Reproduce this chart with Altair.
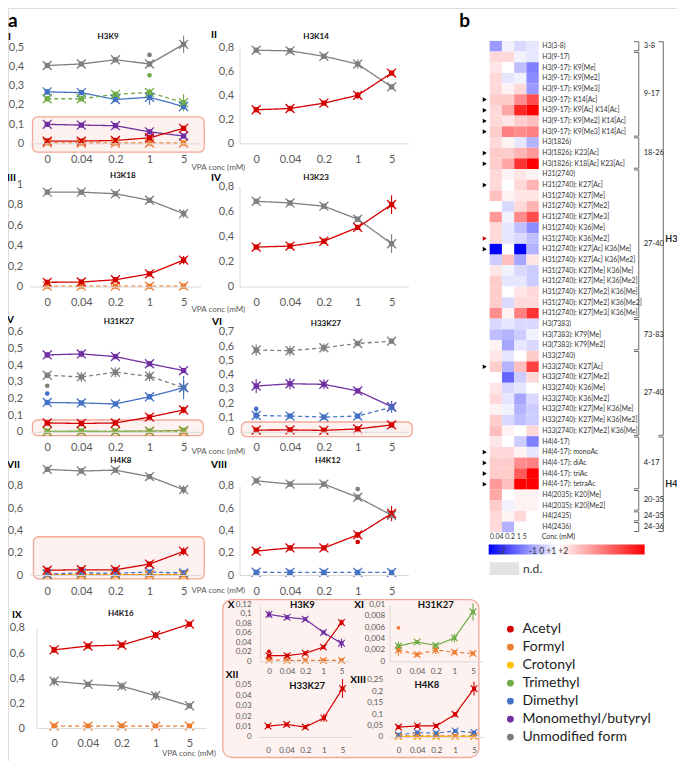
import altair as alt
import pandas as pd

W, H = 669, 753
S = 0.981
FONT = "Lato"


def X(x):
    return round((x - 3.0) * S, 2)


def Y(y):
    return round((y - 3.0) * S, 2)


CONC = ["0", "0.04", "0.2", "1", "5"]
TYPES = ["Acetyl", "Formyl", "Crotonyl", "Trimethyl", "Dimethyl",
         "Monomethyl/butyryl", "Unmodified form"]
TYPE_COLORS = ["#d40000", "#ed7d31", "#ffc000", "#70ad47", "#4472c4",
               "#7030a0", "#7f7f7f"]

# ---------------- panel a : relative abundances ----------------
# I  H3K9
I_UNMOD = [0.405, 0.413, 0.435, 0.413, 0.515]
I_UNMOD_SD = [0.012, 0.010, 0.010, 0.015, 0.045]
I_DIME = [0.268, 0.264, 0.228, 0.240, 0.192]
I_DIME_SD = [0.015, 0.010, 0.010, 0.040, 0.015]
I_TRIME = [0.232, 0.232, 0.255, 0.265, 0.212]
I_TRIME_SD = [0.010, 0.008, 0.012, 0.020, 0.045]
I_MONO = [0.099, 0.095, 0.092, 0.060, 0.038]
I_MONO_SD = [0.006, 0.004, 0.004, 0.004, 0.008]
I_ACET = [0.012, 0.012, 0.015, 0.029, 0.078]
I_ACET_SD = [0.003, 0.002, 0.002, 0.004, 0.008]
I_FORM = [0.003, 0.002, 0.002, 0.002, 0.002]
I_OUT = [("Unmodified form", "1", 0.46), ("Trimethyl", "1", 0.354)]

# II  H3K14
II_UNMOD = [0.775, 0.770, 0.725, 0.660, 0.470]
II_UNMOD_SD = [0.010, 0.010, 0.010, 0.040, 0.015]
II_ACET = [0.280, 0.290, 0.335, 0.400, 0.585]
II_ACET_SD = [0.010, 0.010, 0.010, 0.030, 0.015]

# III  H3K18
III_UNMOD = [0.926, 0.926, 0.910, 0.846, 0.715]
III_UNMOD_SD = [0.010, 0.010, 0.010, 0.015, 0.040]
III_ACET = [0.042, 0.045, 0.067, 0.125, 0.260]
III_ACET_SD = [0.010, 0.005, 0.005, 0.010, 0.040]
III_FORM = [0.005, 0.004, 0.004, 0.004, 0.004]

# IV  H3K23
IV_UNMOD = [0.682, 0.669, 0.643, 0.539, 0.343]
IV_UNMOD_SD = [0.010, 0.010, 0.010, 0.020, 0.075]
IV_ACET = [0.316, 0.324, 0.363, 0.473, 0.656]
IV_ACET_SD = [0.010, 0.010, 0.010, 0.020, 0.075]

# V  H31K27
V_MONO = [0.461, 0.467, 0.451, 0.408, 0.367]
V_MONO_SD = [0.015, 0.020, 0.010, 0.010, 0.010]
V_UNMOD = [0.339, 0.329, 0.357, 0.333, 0.265]
V_UNMOD_SD = [0.015, 0.030, 0.030, 0.030, 0.040]
V_DIME = [0.176, 0.173, 0.167, 0.210, 0.265]
V_DIME_SD = [0.010, 0.010, 0.010, 0.015, 0.070]
V_ACET = [0.053, 0.050, 0.053, 0.088, 0.131]
V_ACET_SD = [0.010, 0.005, 0.005, 0.010, 0.020]
V_FORM = [0.002, 0.001, 0.002, 0.0016, 0.0014]
V_TRIME = [0.0027, 0.0034, 0.0028, 0.0041, 0.0087]
V_OUT = [("Dimethyl", "0", 0.229), ("Unmodified form", "0", 0.276)]

# VI  H33K27
VI_UNMOD = [0.572, 0.567, 0.588, 0.618, 0.634]
VI_UNMOD_SD = [0.040, 0.035, 0.030, 0.015, 0.015]
VI_MONO = [0.320, 0.336, 0.332, 0.286, 0.176]
VI_MONO_SD = [0.050, 0.040, 0.035, 0.015, 0.040]
VI_DIME = [0.114, 0.110, 0.103, 0.110, 0.172]
VI_DIME_SD = [0.030, 0.010, 0.010, 0.010, 0.040]
VI_ACET = [0.012, 0.013, 0.010, 0.020, 0.048]
VI_OUT = [("Dimethyl", "0", 0.160)]

# VII  H4K8
VII_UNMOD = [0.947, 0.932, 0.940, 0.882, 0.765]
VII_UNMOD_SD = [0.010, 0.010, 0.010, 0.015, 0.040]
VII_ACET = [0.043, 0.047, 0.047, 0.098, 0.212]
VII_ACET_SD = [0.010, 0.005, 0.005, 0.010, 0.035]
VII_DIME = [0.009, 0.019, 0.016, 0.026, 0.019]
VII_FORM = [0.004, 0.005, 0.004, 0.004, 0.005]
VII_CROT = [0.002, 0.002, 0.002, 0.003, 0.002]

# VIII  H4K12
VIII_UNMOD = [0.844, 0.815, 0.815, 0.697, 0.536]
VIII_UNMOD_SD = [0.015, 0.010, 0.010, 0.020, 0.050]
VIII_ACET = [0.214, 0.243, 0.243, 0.360, 0.551]
VIII_ACET_SD = [0.020, 0.010, 0.010, 0.025, 0.070]
VIII_DIME = [0.025, 0.024, 0.024, 0.024, 0.023]
VIII_OUT = [("Acetyl", "1", 0.296), ("Unmodified form", "1", 0.771)]

# IX  H4K16
IX_ACET = [0.625, 0.656, 0.664, 0.743, 0.831]
IX_ACET_SD = [0.025, 0.012, 0.012, 0.025, 0.012]
IX_UNMOD = [0.374, 0.350, 0.335, 0.259, 0.178]
IX_UNMOD_SD = [0.035, 0.015, 0.030, 0.035, 0.015]
IX_FORM = [0.016, 0.015, 0.016, 0.015, 0.015]

# X  H3K9 (zoom)
X_MONO = [0.099, 0.093, 0.089, 0.061, 0.038]
X_MONO_SD = [0.007, 0.005, 0.003, 0.004, 0.010]
X_ACET = [0.012, 0.012, 0.017, 0.030, 0.082]
X_ACET_SD = [0.003, 0.002, 0.002, 0.003, 0.006]
X_FORM = [0.003, 0.002, 0.002, 0.002, 0.002]
X_OUT = [("Acetyl", "0", 0.021)]

# XI  H31K27 (zoom)
XI_TRIME = [0.0027, 0.0034, 0.0028, 0.0041, 0.0087]
XI_TRIME_SD = [0.0008, 0.0003, 0.0003, 0.0008, 0.0015]
XI_FORM = [0.0020, 0.0012, 0.0020, 0.0016, 0.0014]
XI_FORM_SD = [0.0010, 0.0003, 0.0007, 0.0004, 0.0003]
XI_OUT = [("Formyl", "0", 0.0059)]

# XII  H33K27 (zoom)
XII_ACET = [0.0104, 0.0120, 0.0094, 0.0182, 0.0465]
XII_ACET_SD = [0.002, 0.001, 0.001, 0.004, 0.009]

# XIII  H4K8 (zoom)
XIII_ACET = [0.043, 0.048, 0.048, 0.099, 0.212]
XIII_ACET_SD = [0.005, 0.004, 0.004, 0.010, 0.030]
XIII_DIME = [0.009, 0.019, 0.016, 0.026, 0.019]
XIII_FORM = [0.004, 0.005, 0.004, 0.004, 0.005]
XIII_CROT = [0.002, 0.002, 0.002, 0.003, 0.002]

# ---------------- panel b : heat map ----------------
HCONC = ["0.04", "0.2", "1", "5"]
ROWS = [
    "H3(3-8)", "H3(9-17)", "H3(9-17): K9[Me]", "H3(9-17): K9[Me2]",
    "H3(9-17): K9[Me3]", "H3(9-17): K14[Ac]", "H3(9-17): K9[Ac] K14[Ac]",
    "H3(9-17): K9[Me2] K14[Ac]", "H3(9-17): K9[Me3] K14[Ac]", "H3(1826)",
    "H3(1826): K23[Ac]", "H3(1826): K18[Ac] K23[Ac]", "H31(2740)",
    "H31(2740): K27[Ac]", "H31(2740): K27[Me]", "H31(2740): K27[Me2]",
    "H31(2740): K27[Me3]", "H31(2740): K36[Me]", "H31(2740): K36[Me2]",
    "H31(2740): K27[Ac] K36[Me]", "H31(2740): K27[Ac] K36[Me2]",
    "H31(2740): K27[Me] K36[Me]", "H31(2740): K27[Me] K36[Me2]",
    "H31(2740): K27[Me2] K36[Me]", "H31(2740): K27[Me2] K36[Me2]",
    "H31(2740): K27[Me3] K36[Me]", "H3(7383)", "H3(7383): K79[Me]",
    "H3(7383): K79[Me2]", "H33(2740)", "H33(2740): K27[Ac]",
    "H33(2740): K27[Me2]", "H33(2740): K36[Me]", "H33(2740): K36[Me2]",
    "H33(2740): K27[Me] K36[Me]", "H33(2740): K27[Me] K36[Me2]",
    "H33(2740): K27[Me2] K36[Me]", "H4(4-17)", "H4(4-17): monoAc",
    "H4(4-17): diAc", "H4(4-17): triAc", "H4(4-17): tetraAc",
    "H4(2035): K20[Me]", "H4(2035): K20[Me2]", "H4(2435)", "H4(2436)",
]
HEAT_004 = [-0.8, 0.3, 0.2, 0.3, 0.3, 0.4, 0.3, 0.3, 0.4, 0.3, 0.4, 0.4, 0.3,
            0.3, 0.5, 0.0, 0.8, 0.3, 0.3, -2.0, -0.4, 0.2, 0.4, 0.4, 0.4, 0.9,
            -0.3, -0.5, 0.1, 0.2, 0.4, 0.0, 0.2, 0.3, 0.1, 0.4, 0.5, 0.2, 0.3,
            0.4, 0.4, 0.8, 0.7, 0.4, 0.3, 0.3]
HEAT_02 = [-0.1, 0.3, 0.0, -0.2, 0.1, 0.4, 0.7, 0.2, 1.0, 0.1, 0.4, 0.7, 0.1,
           0.0, 0.1, -0.3, -0.1, -0.2, -0.2, 0.0, 0.5, -0.1, -0.2, 0.0, -0.3,
           0.1, -0.2, -0.6, -0.7, -0.2, -0.6, -1.2, -0.3, -0.2, -0.1, -0.3,
           0.1, 0.0, 0.3, 0.4, 0.4, 0.5, 0.0, -0.1, 0.1, -0.6]
HEAT_1 = [-0.3, -0.1, -0.5, -0.1, 0.3, 0.9, 1.7, 0.4, 0.9, -0.2, 0.6, 1.6, 0.2,
          0.3, 0.2, 0.3, 0.9, -0.5, -0.3, -2.0, -0.7, -0.3, -0.2, 0.2, 0.3,
          1.0, -0.3, -0.4, -0.2, 0.0, 0.5, -0.4, -0.2, -0.7, -0.6, -0.5, 0.0,
          -0.4, 0.1, 0.9, 1.3, 2.0, 0.1, 0.1, 0.3, 0.0]
HEAT_5 = [-0.2, -0.2, -1.0, -0.9, -0.8, 1.4, 2.0, 0.5, 1.0, -0.6, 0.8, 2.0, 0.1,
          0.6, 0.2, 0.6, 1.4, -0.9, -0.5, -0.6, 0.2, -0.4, -0.4, 0.3, 0.3, 1.6,
          -0.3, -0.1, -0.3, 0.4, 1.5, 0.3, 0.0, -0.3, -0.4, -0.4, 0.3, -1.0,
          -0.2, 1.0, 2.0, 2.0, 0.1, 0.1, 0.0, 0.0]
ARROW_ROWS = [5, 6, 7, 8, 10, 11, 13, 18, 19, 30, 38, 39, 40, 41]
ARROW_COLORS = ["#000"] * 7 + ["#d40000"] + ["#000"] * 6
GROUPS = [("3-8", 0, 0), ("9-17", 1, 8), ("18-26", 9, 11), ("27-40", 12, 25),
          ("73-83", 26, 28), ("27-40", 29, 36), ("4-17", 37, 41),
          ("20-35", 42, 43), ("24-35", 44, 44), ("24-36", 45, 45)]
BIG_GROUPS = [("H3", 0, 36), ("H4", 37, 45)]

XPATH = "M-1,-1L1,1M1,-1L-1,1"
CSCALE = alt.Scale(domain=TYPES, range=TYPE_COLORS)
DSCALE = alt.Scale(domain=["solid", "dash"], range=[[1, 0], [4, 3]])

PANELS = [
    dict(xc0=43, step=34.75, y0=141, ytop=43, ymax=0.5,
         ticks=[0, 0.1, 0.2, 0.3, 0.4, 0.5], axx=22, lpy=3, dom=False,
         series=[("Formyl", "dash", I_FORM, None),
                 ("Unmodified form", "solid", I_UNMOD, I_UNMOD_SD),
                 ("Dimethyl", "solid", I_DIME, I_DIME_SD),
                 ("Trimethyl", "dash", I_TRIME, I_TRIME_SD),
                 ("Monomethyl/butyryl", "solid", I_MONO, I_MONO_SD),
                 ("Acetyl", "solid", I_ACET, I_ACET_SD)], out=I_OUT),
    dict(xc0=256, step=34.5, y0=141, ytop=43, ymax=0.8,
         ticks=[0, 0.2, 0.4, 0.6, 0.8], axx=239, lpy=6, dom=True,
         series=[("Unmodified form", "solid", II_UNMOD, II_UNMOD_SD),
                 ("Acetyl", "solid", II_ACET, II_ACET_SD)]),
    dict(xc0=43, step=34.75, y0=287, ytop=183, ymax=1.0,
         ticks=[0, 0.2, 0.4, 0.6, 0.8, 1], axx=22, lpy=4, dom=False,
         series=[("Formyl", "dash", III_FORM, None),
                 ("Unmodified form", "solid", III_UNMOD, III_UNMOD_SD),
                 ("Acetyl", "solid", III_ACET, III_ACET_SD)]),
    dict(xc0=256, step=34.5, y0=287, ytop=185, ymax=0.8,
         ticks=[0, 0.2, 0.4, 0.6, 0.8], axx=239, lpy=6, dom=True,
         series=[("Unmodified form", "solid", IV_UNMOD, IV_UNMOD_SD),
                 ("Acetyl", "solid", IV_ACET, IV_ACET_SD)]),
    dict(xc0=43, step=34.75, y0=435, ytop=333, ymax=0.6,
         ticks=[0, 0.1, 0.2, 0.3, 0.4, 0.5, 0.6], axx=22, lpy=4, dom=False,
         series=[("Formyl", "dash", V_FORM, None),
                 ("Trimethyl", "solid", V_TRIME, None),
                 ("Monomethyl/butyryl", "solid", V_MONO, V_MONO_SD),
                 ("Unmodified form", "dash", V_UNMOD, V_UNMOD_SD),
                 ("Dimethyl", "solid", V_DIME, V_DIME_SD),
                 ("Acetyl", "solid", V_ACET, V_ACET_SD)], out=V_OUT),
    dict(xc0=256, step=34.5, y0=435, ytop=333, ymax=0.7,
         ticks=[0, 0.1, 0.2, 0.3, 0.4, 0.5, 0.6, 0.7], axx=239, lpy=6,
         dom=False,
         series=[("Unmodified form", "dash", VI_UNMOD, VI_UNMOD_SD),
                 ("Monomethyl/butyryl", "solid", VI_MONO, VI_MONO_SD),
                 ("Dimethyl", "dash", VI_DIME, VI_DIME_SD),
                 ("Acetyl", "solid", VI_ACET, None)], out=VI_OUT),
    dict(xc0=43, step=34.75, y0=581, ytop=490, ymax=0.8,
         ticks=[0, 0.2, 0.4, 0.6, 0.8], axx=22, lpy=4, dom=False,
         series=[("Crotonyl", "solid", VII_CROT, None),
                 ("Formyl", "dash", VII_FORM, None),
                 ("Dimethyl", "dash", VII_DIME, None),
                 ("Unmodified form", "solid", VII_UNMOD, VII_UNMOD_SD),
                 ("Acetyl", "solid", VII_ACET, VII_ACET_SD)]),
    dict(xc0=256, step=34.5, y0=581, ytop=490, ymax=0.8,
         ticks=[0, 0.2, 0.4, 0.6, 0.8], axx=239, lpy=6, dom=True,
         series=[("Dimethyl", "dash", VIII_DIME, None),
                 ("Unmodified form", "solid", VIII_UNMOD, VIII_UNMOD_SD),
                 ("Acetyl", "solid", VIII_ACET, VIII_ACET_SD)],
         out=VIII_OUT),
    dict(xc0=50, step=34.5, y0=737, ytop=635, ymax=0.8,
         ticks=[0, 0.2, 0.4, 0.6, 0.8], axx=32, lpy=12, dom=True, lpx=9,
         series=[("Formyl", "dash", IX_FORM, None),
                 ("Unmodified form", "solid", IX_UNMOD, IX_UNMOD_SD),
                 ("Acetyl", "solid", IX_ACET, IX_ACET_SD)], legend=True),
    dict(xc0=269, step=18.5, y0=669, ytop=611, ymax=0.12,
         ticks=[0, 0.02, 0.04, 0.06, 0.08, 0.1, 0.12], axx=260, lpy=9,
         dom=True, small=True, lpx=6,
         series=[("Formyl", "dash", X_FORM, None),
                 ("Monomethyl/butyryl", "solid", X_MONO, X_MONO_SD),
                 ("Acetyl", "solid", X_ACET, X_ACET_SD)], out=X_OUT),
    dict(xc0=401, step=19, y0=669, ytop=611, ymax=0.01,
         ticks=[0, 0.002, 0.004, 0.006, 0.008, 0.01], axx=392, lpy=5,
         dom=True, small=True, lpx=6,
         series=[("Formyl", "dash", XI_FORM, XI_FORM_SD),
                 ("Trimethyl", "solid", XI_TRIME, XI_TRIME_SD)], out=XI_OUT),
    dict(xc0=268, step=19, y0=746, ytop=693, ymax=0.05,
         ticks=[0, 0.01, 0.02, 0.03, 0.04, 0.05], axx=260, lpy=9,
         dom=False, small=True, lpx=10,
         series=[("Acetyl", "solid", XII_ACET, XII_ACET_SD)]),
    dict(xc0=401, step=19.25, y0=746, ytop=688, ymax=0.25,
         ticks=[0, 0.05, 0.1, 0.15, 0.2, 0.25], axx=392, lpy=7,
         dom=False, small=True, lpx=10,
         series=[("Crotonyl", "solid", XIII_CROT, None),
                 ("Formyl", "dash", XIII_FORM, None),
                 ("Dimethyl", "dash", XIII_DIME, None),
                 ("Acetyl", "solid", XIII_ACET, XIII_ACET_SD)]),
]

# highlight boxes (image pixel extents: x0, x1, y0, y1, corner radius)
BOXES = [(222, 483, 606, 767, 9), (28, 203, 114, 150, 5),
         (28, 202, 423, 439, 5), (241, 415, 425, 440, 5),
         (29, 203, 542, 585, 5)]


def series_df(series):
    rows = []
    for typ, dash, vals, sds in series:
        for i, c in enumerate(CONC):
            e = sds[i] if sds else 0.0
            rows.append(dict(type=typ, dash=dash, conc=c, i=i, v=vals[i],
                             lo=vals[i] - e, hi=vals[i] + e))
    return pd.DataFrame(rows)


def panel_layers(p):
    small = p.get("small", False)
    fs = 8 if small else 11
    df = series_df(p["series"])
    a = p["xc0"] - p["step"] / 2.0
    b = a + 5 * p["step"]
    xs = alt.Scale(type="point", domain=CONC, range=[X(a), X(b)], padding=0.5)
    ys = alt.Scale(domain=[0, p["ymax"]], range=[Y(p["y0"]), Y(p["ytop"])],
                   nice=False, zero=False)
    xax = alt.Axis(orient="bottom", offset=round(Y(p["y0"]) - H, 2),
                   title=None, grid=False, ticks=False, tickSize=0,
                   domain=True, domainColor="#d9d9d9", labelAngle=0,
                   labelFontSize=fs, labelColor="#595959", labelFont=FONT,
                   labelPadding=p.get("lpx", 10), zindex=1)
    yax = alt.Axis(orient="left", offset=-X(p["axx"]), values=p["ticks"],
                   labelExpr="replace(toString(datum.value), '.', ',')",
                   title=None, grid=False, ticks=False, tickSize=0,
                   domain=p["dom"], domainColor="#d9d9d9", labelFontSize=fs,
                   labelColor="#595959", labelFont=FONT,
                   labelPadding=p["lpy"], labelOverlap=False, zindex=1)
    col = alt.Color("type:N", scale=CSCALE, legend=None)
    base = alt.Chart(df)
    line = base.mark_line(strokeWidth=1.2 if small else 1.3).encode(
        x=alt.X("conc:N", scale=xs, axis=xax),
        y=alt.Y("v:Q", scale=ys, axis=yax),
        color=col,
        strokeDash=alt.StrokeDash("dash:N", scale=DSCALE, legend=None),
        order=alt.Order("i:Q"),
    )
    err = base.transform_filter("datum.hi > datum.lo").mark_rule(
        strokeWidth=1.1).encode(
        x=alt.X("conc:N", scale=xs, axis=None),
        y=alt.Y("lo:Q", scale=ys, axis=None), y2="hi:Q", color=col)
    if p.get("legend"):
        sq_col = alt.Color("type:N", scale=CSCALE, legend=alt.Legend(
            orient="none", legendX=X(508), legendY=Y(629), title=None,
            symbolType="circle", symbolSize=48, symbolStrokeWidth=0,
            labelFontSize=14, labelFont=FONT, labelColor="#222",
            rowPadding=4, padding=0, labelOffset=5, labelLimit=300))
    else:
        sq_col = col
    sq = base.mark_point(shape="square", filled=True, opacity=1,
                         size=16 if small else 28).encode(
        x=alt.X("conc:N", scale=xs, axis=None),
        y=alt.Y("v:Q", scale=ys, axis=None), color=sq_col)
    xm = base.mark_point(shape=XPATH, filled=False, opacity=1,
                         size=45 if small else 80,
                         strokeWidth=1.1 if small else 1.3).encode(
        x=alt.X("conc:N", scale=xs, axis=None),
        y=alt.Y("v:Q", scale=ys, axis=None), color=col)
    layers = [line, err, sq, xm]
    if p.get("out"):
        odf = pd.DataFrame(p["out"], columns=["type", "conc", "v"])
        layers.append(alt.Chart(odf).mark_point(
            shape="circle", filled=True, opacity=1, size=14 if small else 22
        ).encode(x=alt.X("conc:N", scale=xs, axis=None),
                 y=alt.Y("v:Q", scale=ys, axis=None), color=col))
    return layers


def box_layer(x0, x1, y0, y1, r):
    df = pd.DataFrame({"x0": [X(x0)], "x1": [X(x1)],
                       "y0": [Y(y0)], "y1": [Y(y1)]})
    return alt.Chart(df).mark_rect(
        cornerRadius=r, fill="#fdf2f0", stroke="#f3a796", strokeWidth=1.3
    ).encode(x=alt.X("x0:Q", scale=None, axis=None), x2="x1:Q",
             y=alt.Y("y0:Q", scale=None, axis=None), y2="y1:Q")


def text_layer(rows, size, weight="normal", align="left", color="#000",
               baseline="middle"):
    df = pd.DataFrame(rows, columns=["t", "px", "py"])
    df["px"] = df["px"].map(X)
    df["py"] = df["py"].map(Y)
    return alt.Chart(df).mark_text(
        fontSize=size, fontWeight=weight, align=align, baseline=baseline,
        color=color, font=FONT
    ).encode(x=alt.X("px:Q", scale=None, axis=None),
             y=alt.Y("py:Q", scale=None, axis=None), text="t:N")


layers = [box_layer(*bx) for bx in BOXES]
for p in PANELS:
    layers.extend(panel_layers(p))

# ---- heat map ----
heat_cols = [HEAT_004, HEAT_02, HEAT_1, HEAT_5]
heat_df = pd.DataFrame([
    {"row": r, "conc": c, "v": heat_cols[j][i]}
    for i, r in enumerate(ROWS) for j, c in enumerate(HCONC)
])
hx = alt.Scale(type="band", domain=HCONC, range=[X(494), X(544)],
               paddingInner=0, paddingOuter=0)
hy = alt.Scale(type="band", domain=ROWS, range=[Y(36.5), Y(537.5)],
               paddingInner=0, paddingOuter=0)
heat = alt.Chart(heat_df).mark_rect(strokeWidth=0).encode(
    x=alt.X("conc:N", scale=hx, axis=None),
    y=alt.Y("row:N", scale=hy, axis=alt.Axis(
        orient="right", offset=round(X(545) - W, 2), title=None, ticks=False,
        tickSize=0, domain=False, grid=False, labelFontSize=6.9,
        labelFont=FONT, labelColor="#333", labelPadding=2,
        labelOverlap=False, labelLimit=300)),
    color=alt.Color("v:Q", scale=alt.Scale(
        domain=[-2, 0, 2], range=["#0000ff", "#ffffff", "#ff0000"],
        interpolate="rgb", clamp=True), legend=None),
)
layers.append(heat)

# colour key bar (blue -> white -> red), drawn as a gradient-filled rect
key = pd.DataFrame({"x0": [X(493)], "x1": [X(652)], "y0": [Y(550)],
                    "y1": [Y(560)]})
layers.append(alt.Chart(key).mark_rect(
    fill=alt.Gradient(gradient="linear", x1=0, x2=1, y1=0, y2=0, stops=[
        alt.GradientStop(color="#0000ff", offset=0),
        alt.GradientStop(color="#ffffff", offset=0.44),
        alt.GradientStop(color="#ff0000", offset=1)])
).encode(x=alt.X("x0:Q", scale=None, axis=None), x2="x1:Q",
         y=alt.Y("y0:Q", scale=None, axis=None), y2="y1:Q"))

arrow_df = pd.DataFrame({"row": [ROWS[i] for i in ARROW_ROWS],
                         "c": ARROW_COLORS})
layers.append(alt.Chart(arrow_df).mark_point(
    shape="triangle-right", filled=True, opacity=1, size=22).encode(
    x=alt.value(X(489)), y=alt.Y("row:N", scale=hy, axis=None),
    color=alt.Color("c:N", scale=None)))

idx = alt.Scale(domain=[-0.5, 45.5], range=[Y(36.5), Y(537.5)],
                nice=False, zero=False)


def bracket_layers(groups, xv, xt, xl, size, weight):
    g = pd.DataFrame(groups, columns=["label", "s", "e"])
    g["y0"] = g["s"] - 0.42
    g["y1"] = g["e"] + 0.42
    g["mid"] = (g["s"] + g["e"]) / 2.0
    ends = pd.concat([g[["y0"]].rename(columns={"y0": "yt"}),
                      g[["y1"]].rename(columns={"y1": "yt"})])
    vert = alt.Chart(g).mark_rule(color="#444", strokeWidth=0.8).encode(
        x=alt.value(X(xv)), y=alt.Y("y0:Q", scale=idx, axis=None), y2="y1:Q")
    tick = alt.Chart(ends).mark_rule(color="#444", strokeWidth=0.8).encode(
        x=alt.value(X(xt)), x2=alt.value(X(xv)),
        y=alt.Y("yt:Q", scale=idx, axis=None))
    lab = alt.Chart(g).mark_text(align="left", baseline="middle",
                                 fontSize=size, fontWeight=weight,
                                 font=FONT, color="#222").encode(
        x=alt.value(X(xl)), y=alt.Y("mid:Q", scale=idx, axis=None),
        text="label:N")
    return [vert, tick, lab]


layers.extend(bracket_layers(GROUPS, 646, 641, 651, 7.5, "normal"))
layers.extend(bracket_layers(BIG_GROUPS, 671, 666, 673, 9, "bold"))

nd = pd.DataFrame({"x0": [X(494)], "x1": [X(524)], "y0": [Y(568)],
                   "y1": [Y(581)]})
layers.append(alt.Chart(nd).mark_rect(fill="#e3e3e3").encode(
    x=alt.X("x0:Q", scale=None, axis=None), x2="x1:Q",
    y=alt.Y("y0:Q", scale=None, axis=None), y2="y1:Q"))

# ---- texts ----
layers.append(text_layer([("a", 3, 22), ("b", 463, 22)], 19, "bold",
                         baseline="alphabetic"))
layers.append(text_layer([
    ("I", 3, 33), ("II", 210, 31), ("III", 2, 176), ("IV", 210, 176),
    ("V", 2, 321), ("VI", 211, 323), ("VII", 2, 469), ("VIII", 210, 469),
    ("IX", 7, 622), ("X", 227, 612), ("XI", 356, 612), ("XII", 225, 683),
    ("XIII", 352, 688)], 10, "bold"))
layers.append(text_layer([
    ("H3K9", 105, 33), ("H3K14", 317, 33), ("H3K18", 120, 174),
    ("H3K23", 317, 176), ("H31K27", 116, 323), ("H33K27", 327, 325),
    ("H4K8", 118, 465), ("H4K12", 329, 465), ("H4K16", 118, 621)],
    8, "bold", "center", "#111"))
layers.append(text_layer([
    ("H3K9", 303, 612), ("H31K27", 439, 612), ("H33K27", 308, 694),
    ("H4K8", 430, 693)], 9.5, "bold", "center", "#111"))
layers.append(text_layer([
    ("VPA conc (mM)", 190, 166), ("VPA conc (mM)", 190, 311),
    ("VPA conc (mM)", 190, 456), ("VPA conc (mM)", 190, 597),
    ("VPA conc (mM)", 160, 763)], 8, "normal", "left", "#595959"))
layers.append(text_layer([
    ("0.04 0.2 1 5", 494, 542), ("Conc (mM)", 547, 542)], 7, "normal",
    "left", "#333"))
layers.append(text_layer([("-2", 502, 557), ("-1 0 +1 +2", 534, 557)], 8.5,
                         "normal", "left", "#333"))
layers.append(text_layer([("n.d.", 528, 575)], 12, "normal", "left", "#333"))

chart = alt.layer(*layers).properties(
    width=W, height=H, padding=0,
    autosize=alt.AutoSizeParams(type="none"),
).resolve_scale(
    x="independent", y="independent", color="independent",
    strokeDash="independent",
).resolve_axis(x="independent", y="independent").resolve_legend(
    color="independent", strokeDash="independent",
).configure_view(stroke=None).configure(background="white")

chart.save("out.html", embed_options={"renderer": "svg", "actions": False})
